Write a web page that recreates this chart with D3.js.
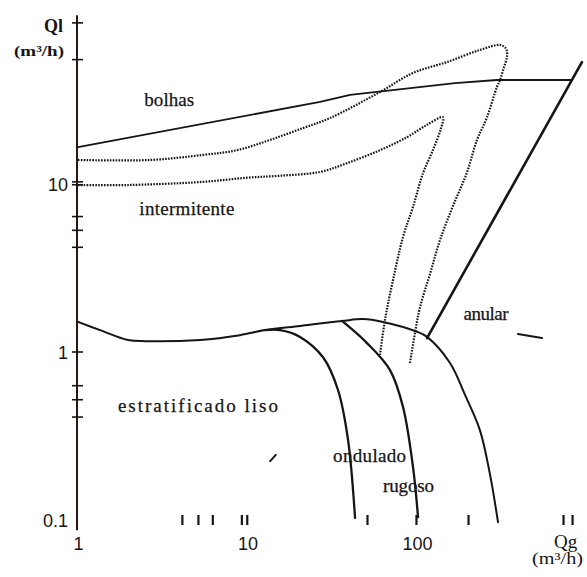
<!DOCTYPE html>
<html>
<head>
<meta charset="utf-8">
<script src="https://cdn.jsdelivr.net/npm/d3@7/dist/d3.min.js"></script>
<style>
  html, body { margin: 0; padding: 0; background: #fff; }
  svg { display: block; }
</style>
</head>
<body>
<svg id="chart" width="587" height="577"></svg>
<script>
// ---------- DATA (Qg, Ql in m3/h) ----------
const xTickLabels = [1, 10, 100];
const xMinorTicks = [4.1, 5.1, 6.2, 9.2, 9.9, 50.7, 98.6, 200, 727, 822];
const yTickLabels = [10, 1, 0.1];
const yMinorTicks = [91, 55, 10.3, 9.9, 6.4, 5.3, 4.2, 1, 0.63, 0.52, 0.41];
const yAxisExtent = [101, 0.087];

// bubble / intermittent boundary (solid)
const bolhasLine = [[1,16.6],[26.8,30.8],[40.3,33.9],[167.6,39.9],[296,41.6],[821,41.6]];
// annular boundary (solid)
const anularLine = [[114.6,1.21],[940,53.2]];
// stratified boundary (solid)
const stratLine = [[1,1.51],[1.35,1.35],[1.97,1.18],[2.49,1.16],[5.25,1.18],[9.03,1.26],[12.7,1.35],
  [20.4,1.43],[36.1,1.53],[48,1.57],[63,1.51],[100,1.32],[114.6,1.23],[156.6,0.86],[192,0.555],
  [235,0.343],[270,0.185],[300.6,0.097]];
// smooth / wavy boundary
const lisoOndulado = [[12.7,1.35],[15.6,1.35],[20.4,1.23],[27.9,0.93],[34.2,0.594],[39.2,0.299],[43.1,0.103]];
// wavy / rough boundary
const onduladoRugoso = [[36.1,1.53],[50.7,1.13],[69.3,0.78],[82.7,0.471],[94.7,0.207],[101.4,0.104]];
// dotted transition loops
const outerLoop = [[1,13.9],[2.66,13.9],[5.46,14.9],[8.67,15.9],[13.6,18.3],[21.2,21.5],[30.7,24.7],
  [60.5,35.3],[94.7,45.8],[150.4,53.2],[235,62.8],[309,67.2],[335,64],[340,58],[322,47.7],[309,41.6],
  [296,37.8],[259,25.0],[226,18.3],[197,11.7],[163,7.4],[136.7,4.64],[119.4,2.92],[104.2,1.85],
  [97.3,1.30],[90.9,0.86]];
const innerLoop = [[1,9.86],[1.95,9.86],[5.46,10.3],[9.93,10.9],[15.6,11.2],[26.8,11.8],[38.6,13.3],
  [60.5,15.9],[87.3,19.0],[114.6,22.5],[142.3,25.0],[138.6,21.5],[124.2,15.9],[108.5,11.6],
  [94.7,7.3],[82.7,4.84],[72.2,2.68],[64.7,1.55],[60.5,0.96]];
// small stray marks on the original
const strayMarks = [[[13.6,0.224],[14.7,0.244]], [[394,1.28],[546,1.21]]];

// region labels: [text, x, y (data coords for baseline-left), width px]
const regionLabels = [
  ["bolhas", 2.46, 29.0, 50],
  ["intermitente", 2.3, 6.5, 95],
  ["anular", 188, 1.55, 45],
  ["estratificado liso", 1.72, 0.44, 160],
  ["ondulado", 32, 0.222, 73],
  ["rugoso", 63, 0.146, 51]
];

// ---------- CHART ----------
const svg = d3.select("#chart");
const x = d3.scaleLog().domain([1, 1000]).range([78, 586.5]);
const y = d3.scaleLog().domain([0.1, 100]).range([520, 16]);
const ink = "#151515";
const sans = "'Liberation Sans', Arial, sans-serif";
const serif = "'Liberation Serif', 'Times New Roman', serif";

// Y axis line
svg.append("line")
  .attr("x1", x(1) - 1).attr("x2", x(1) - 1)
  .attr("y1", y(yAxisExtent[0])).attr("y2", y(yAxisExtent[1]))
  .attr("stroke", "#2a1616").attr("stroke-width", 2);

// Y ticks (crossing the axis)
svg.selectAll(".ytick").data(yMinorTicks).enter().append("line")
  .attr("x1", x(1) - 6).attr("x2", x(1) + 5)
  .attr("y1", d => y(d)).attr("y2", d => y(d))
  .attr("stroke", ink).attr("stroke-width", 1.6);

// Y labels
svg.selectAll(".ylab").data(yTickLabels).enter().append("text")
  .attr("x", 68).attr("y", d => y(d) + 6.5)
  .attr("text-anchor", "end")
  .style("font-family", sans)
  .attr("font-size", 18).attr("fill", ink)
  .text(d => d);

// X ticks via d3 axis (no domain line)
const xAxis = d3.axisBottom(x).tickValues(xMinorTicks).tickSize(10).tickFormat("");
const gx = svg.append("g").attr("transform", `translate(0,${y(0.1) - 5})`).call(xAxis);
gx.select(".domain").remove();
gx.selectAll(".tick line").attr("stroke", ink).attr("stroke-width", 2.2);

const xLab = d3.axisBottom(x).tickValues(xTickLabels).tickSize(0).tickFormat(d => d);
const gl = svg.append("g").attr("transform", `translate(0,${y(0.1) + 12})`).call(xLab);
gl.select(".domain").remove();
gl.selectAll("text").style("font-family", sans)
  .attr("font-size", 18).attr("fill", ink).attr("dy", "0.71em").attr("y", 5);
gl.attr("font-family", null).attr("font-size", null);

// axis titles
svg.append("text").attr("x", 44).attr("y", 32).style("font-family", serif)
  .attr("font-weight", "bold").attr("font-size", 18).attr("fill", ink).text("Ql");
svg.append("text").attr("x", 14).attr("y", 56).style("font-family", serif)
  .attr("font-weight", "bold").attr("font-size", 15).attr("fill", ink)
  .attr("textLength", 50).attr("lengthAdjust", "spacingAndGlyphs").text("(m³/h)");
svg.append("text").attr("x", 554).attr("y", 548).style("font-family", serif)
  .attr("font-size", 19).attr("fill", ink).text("Qg");
svg.append("text").attr("x", 532).attr("y", 564).style("font-family", serif)
  .attr("font-size", 16).attr("fill", ink)
  .attr("textLength", 51).attr("lengthAdjust", "spacingAndGlyphs").text("(m³/h)");

// lines
const straight = d3.line().x(d => x(d[0])).y(d => y(d[1]));
const smooth = d3.line().x(d => x(d[0])).y(d => y(d[1])).curve(d3.curveCatmullRom.alpha(0.5));

function draw(data, gen, w, dash) {
  const p = svg.append("path").datum(data).attr("d", gen)
    .attr("fill", "none").attr("stroke", ink).attr("stroke-width", w)
    .attr("stroke-linejoin", "round").attr("stroke-linecap", "round");
  if (dash) p.attr("stroke-dasharray", dash).attr("stroke-linecap", "butt");
}

draw(outerLoop, smooth, 2.2, "1.6,1.3");
draw(innerLoop, smooth, 2.2, "1.6,1.3");
draw(bolhasLine, straight, 1.8);
draw(anularLine, straight, 2.6);
draw(stratLine, smooth, 2);
draw(lisoOndulado, smooth, 2.3);
draw(onduladoRugoso, smooth, 2.3);
strayMarks.forEach(m => draw(m, straight, 2));

// region labels
svg.selectAll(".rlab").data(regionLabels).enter().append("text")
  .attr("x", d => x(d[1])).attr("y", d => y(d[2]))
  .style("font-family", serif).attr("font-size", 19).attr("fill", ink)
  .style("stroke", ink).style("stroke-width", 0.25)
  .attr("textLength", d => d[3]).attr("lengthAdjust", "spacing")
  .text(d => d[0]);
</script>
</body>
</html>
